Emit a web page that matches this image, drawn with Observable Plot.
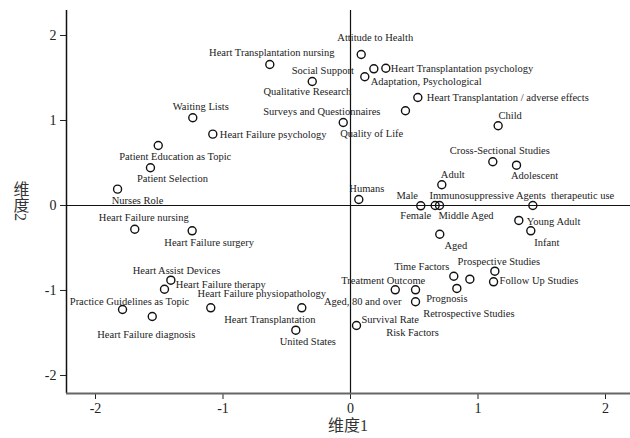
<!DOCTYPE html>
<html><head><meta charset="utf-8">
<script src="https://cdn.jsdelivr.net/npm/d3@7"></script>
<script src="https://cdn.jsdelivr.net/npm/@observablehq/plot@0.6"></script>
<style>body{margin:0;background:#fff} svg{display:block}</style>
</head><body><div id="chart"></div>
<script>
const names = [
  "Heart Transplantation nursing","Social Support","Heart Transplantation psychology","Qualitative Research",
  "Attitude to Health","Adaptation, Psychological","Heart Transplantation / adverse effects","Surveys and Questionnaires",
  "Quality of Life","Waiting Lists","Heart Failure psychology","Patient Education as Topic","Patient Selection",
  "Nurses Role","Child","Cross-Sectional Studies","Adolescent","Adult","Humans","Female","Male","Middle Aged",
  "Immunosuppressive Agents  therapeutic use","Young Adult","Infant","Aged","Prospective Studies","Follow Up Studies",
  "Time Factors","Retrospective Studies","Treatment Outcome","Risk Factors","Prognosis","Aged, 80 and over",
  "Survival Rate","Heart Failure nursing","Heart Failure surgery","Heart Failure therapy","Heart Assist Devices",
  "Practice Guidelines as Topic","Heart Failure diagnosis","Heart Failure physiopathology","Heart Transplantation",
  "United States"
];
const dim1 = [-0.633,0.183,0.277,-0.300,0.084,0.112,0.528,0.431,-0.057,-1.237,-1.080,-1.508,-1.569,-1.827,
  1.158,1.116,1.302,0.716,0.065,0.551,0.664,0.698,1.430,1.320,1.414,0.700,1.132,1.122,0.810,0.936,0.351,0.510,
  0.834,0.510,0.047,-1.692,-1.242,-1.409,-1.459,-1.788,-1.555,-1.096,-0.382,-0.429];
const dim2 = [1.659,1.608,1.615,1.459,1.776,1.514,1.271,1.114,0.976,1.032,0.839,0.706,0.444,0.192,
  0.938,0.514,0.474,0.244,0.071,-0.004,0,0,0,-0.176,-0.298,-0.338,-0.773,-0.898,-0.832,-0.867,-0.992,-0.992,
  -0.976,-1.133,-1.412,-0.279,-0.298,-0.879,-0.985,-1.224,-1.306,-1.204,-1.204,-1.467];
const xTicks = [-2,-1,0,1,2];
const yTicks = [-2,-1,0,1,2];
const xTitle = "维度1";
const yTitle = "维度2";

// label layout only: [dx px, dy px, anchor]
const labelPlacement = [
  [2,-12,"middle"],[-20,2,"end"],[5,0,"start"],[-5,10,"middle"],[14,-17,"middle"],[6,5,"start"],[9,0,"start"],
  [-25,1,"end"],[-3,11,"start"],[8,-11,"middle"],[7,0,"start"],[17,11,"middle"],[22,11,"middle"],[20,11,"middle"],
  [12,-10,"middle"],[7,-11,"middle"],[18,10,"middle"],[11,-10,"middle"],[8,-11,"middle"],[-5,10,"middle"],
  [-28,-10,"middle"],[-1,10,"start"],[-11,-10,"middle"],[8,1,"start"],[16,12,"middle"],[16,11,"middle"],
  [4,-10,"middle"],[6,-1,"start"],[-32,-10,"middle"],[-1,34,"middle"],[-12,-9,"middle"],[-3,43,"middle"],
  [-10,10,"middle"],[-14,0,"end"],[5,-6,"start"],[9,-12,"middle"],[17,12,"middle"],[5,4,"start"],[12,-19,"middle"],
  [7,-8,"middle"],[-6,18,"middle"],[51,-14,"middle"],[-32,12,"middle"],[12,11,"middle"]
];

const data = names.map((n,i)=>({name:n, d1:dim1[i], d2:dim2[i], p:labelPlacement[i]}));
const xDom = [-2.2275, 2.196];
const yDom = [-2.212, 2.294];
const serif = "'Liberation Serif','Times New Roman',serif";

const labelMarks = data.map(d => Plot.text([d], {
  x:"d1", y:"d2", text:"name", dx:d.p[0], dy:d.p[1], textAnchor:d.p[2],
  fontSize:10.5, fill:"#222", fontFamily:serif
}));

const chart = Plot.plot({
  width:630, height:438,
  marginLeft:66, marginRight:0, marginTop:10, marginBottom:45,
  style:{fontFamily:serif, fontSize:"14px", color:"#222", background:"#fff"},
  x:{domain:xDom, ticks:xTicks, tickSize:6, tickPadding:4, label:null, tickFormat:d=>d},
  y:{domain:yDom, ticks:yTicks, tickSize:6, tickPadding:4, label:null, tickFormat:d=>d},
  marks:[
    Plot.ruleX([0], {stroke:"#111", strokeWidth:1.2}),
    Plot.ruleY([0], {stroke:"#111", strokeWidth:1.2}),
    Plot.ruleX([xDom[0]], {stroke:"#111", strokeWidth:1.5}),
    Plot.ruleY([yDom[0]], {stroke:"#666", strokeWidth:2}),
    Plot.dot(data, {x:"d1", y:"d2", r:4, stroke:"#111", strokeWidth:1.4, fill:"none"}),
    ...labelMarks
  ]
});
document.getElementById("chart").appendChild(chart);

const svg = d3.select(chart);
svg.append("text").attr("x",348).attr("y",431).attr("text-anchor","middle")
  .style("font-family","'Liberation Serif','Noto Sans CJK SC',serif").style("font-size","16px").attr("fill","#333")
  .text(xTitle);
svg.append("text").attr("x",20).attr("y",201).attr("text-anchor","middle")
  .style("writing-mode","vertical-rl").style("text-orientation","mixed")
  .style("font-family","'Liberation Serif','Noto Sans CJK SC',serif").style("font-size","16px").attr("fill","#333")
  .text(yTitle);
</script>
</body></html>
